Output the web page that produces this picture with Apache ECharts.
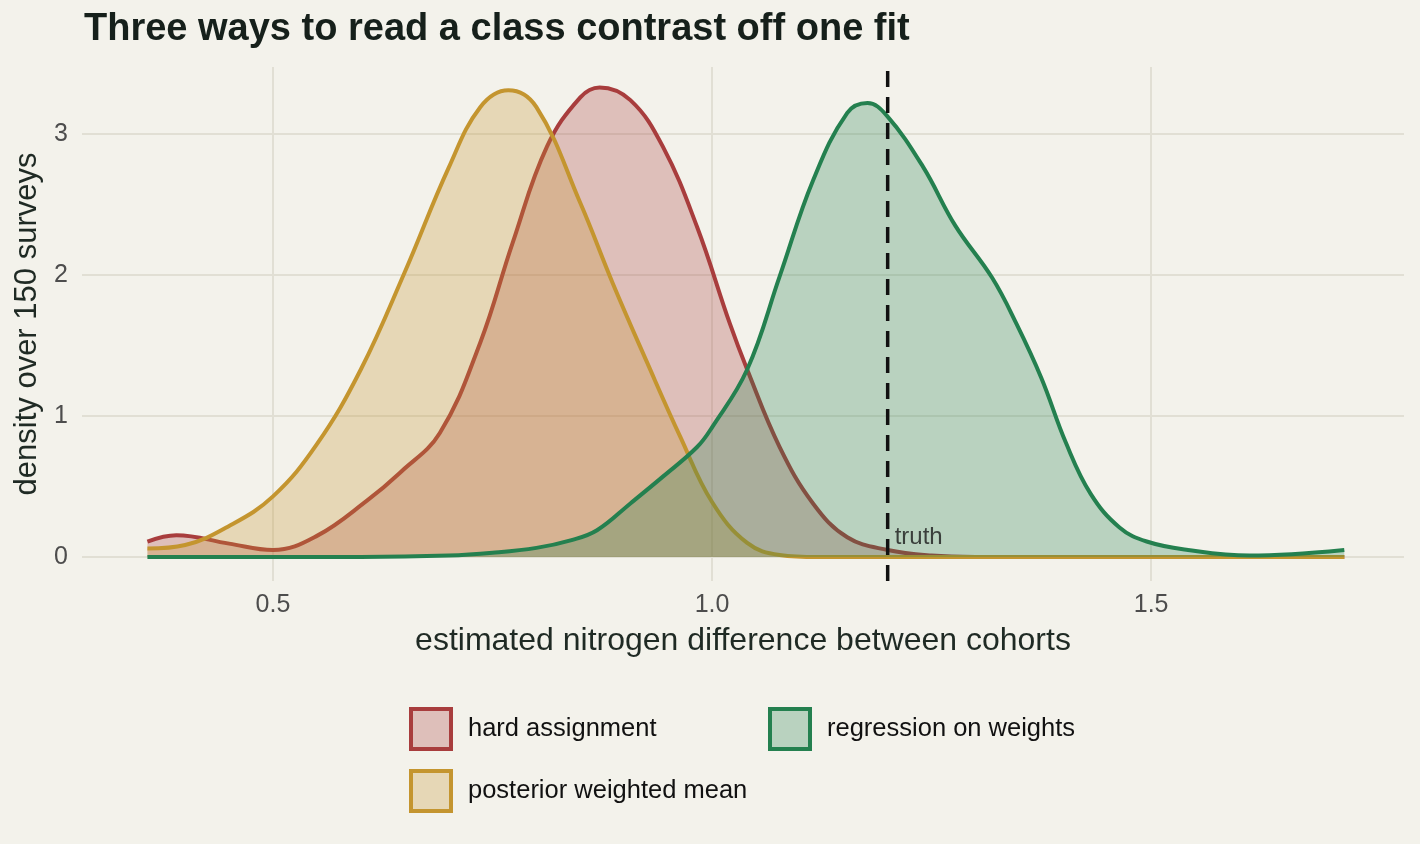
<!DOCTYPE html>
<html>
<head>
<meta charset="utf-8">
<title>Three ways to read a class contrast off one fit</title>
<script src="https://cdn.jsdelivr.net/npm/echarts@6/dist/echarts.min.js"></script>
<style>
  html, body { margin: 0; padding: 0; background: #f3f2eb; }
  #chart { width: 1420px; height: 844px; }
</style>
</head>
<body>
<div id="chart"></div>
<script>
// density curves, one x/y pair of arrays per method
const hardX = [0.357, 0.39, 0.45, 0.50, 0.55, 0.607, 0.645, 0.69, 0.736, 0.773, 0.812, 0.85, 0.872, 0.907, 0.944, 0.983, 1.02, 1.04, 1.077, 1.115, 1.154, 1.20, 1.25, 1.30, 1.45, 1.60, 1.72];
const hardY = [0.11, 0.155, 0.095, 0.05, 0.15, 0.40, 0.60, 0.88, 1.52, 2.23, 2.91, 3.26, 3.33, 3.24, 2.91, 2.34, 1.66, 1.33, 0.78, 0.38, 0.14, 0.05, 0.01, 0, 0, 0, 0];

const meanX = [0.357, 0.40, 0.45, 0.50, 0.55, 0.60, 0.65, 0.70, 0.736, 0.768, 0.80, 0.85, 0.887, 0.926, 0.964, 1.00, 1.04, 1.077, 1.12, 1.20, 1.40, 1.60, 1.72];
const meanY = [0.06, 0.085, 0.22, 0.43, 0.80, 1.33, 2.02, 2.76, 3.19, 3.31, 3.19, 2.51, 1.94, 1.38, 0.85, 0.39, 0.10, 0.015, 0, 0, 0, 0, 0];

const regX = [0.357, 0.50, 0.60, 0.70, 0.75, 0.80, 0.84, 0.869, 0.907, 0.944, 0.983, 1.00, 1.04, 1.077, 1.115, 1.154, 1.177, 1.199, 1.24, 1.277, 1.319, 1.347, 1.375, 1.403, 1.431, 1.464, 1.495, 1.542, 1.612, 1.66, 1.72];
const regY = [0, 0, 0, 0.01, 0.03, 0.065, 0.12, 0.19, 0.38, 0.57, 0.78, 0.92, 1.33, 1.99, 2.67, 3.15, 3.22, 3.13, 2.77, 2.35, 1.98, 1.65, 1.27, 0.81, 0.45, 0.21, 0.11, 0.05, 0.01, 0.02, 0.05];

const methodNames = ['hard assignment', 'posterior weighted mean', 'regression on weights'];
const truthValue = 1.2;
const truthLabel = 'truth';

const lineColors = ['#a83d3d', '#c4952f', '#24804f'];
const fillColors = ['rgba(168,61,61,0.28)', 'rgba(196,149,47,0.28)', 'rgba(36,128,79,0.28)'];

const font = '"Liberation Sans", Arial, Helvetica, sans-serif';
const xMin = 0.2825, xMax = 1.788;
const yMin = -0.17, yMax = 3.475;

function pairs(xs, ys) {
  return xs.map(function(x, i) { return [x, ys[i]]; });
}

const curves = [pairs(hardX, hardY), pairs(meanX, meanY), pairs(regX, regY)];

const chart = echarts.init(document.getElementById('chart'), null, { renderer: 'canvas' });

const densitySeries = methodNames.map(function(name, i) {
  return {
    name: name,
    type: 'line',
    data: curves[i],
    smooth: 0.4,
    symbol: 'none',
    z: 2 + i,
    lineStyle: { color: lineColors[i], width: 4 },
    itemStyle: { color: lineColors[i] },
    areaStyle: { color: fillColors[i], opacity: 1 }
  };
});

function legendItem(i) {
  return {
    name: methodNames[i],
    icon: 'rect',
    itemStyle: { color: fillColors[i], borderColor: lineColors[i], borderWidth: 4 }
  };
}

const legendBase = {
  orient: 'vertical',
  top: 707,
  padding: 0,
  itemWidth: 40,
  itemHeight: 40,
  itemGap: 18,
  selectedMode: false,
  textStyle: { fontFamily: font, fontSize: 25.5, color: '#111', padding: [0, 0, 0, 12] }
};

chart.setOption({
  backgroundColor: '#f3f2eb',
  animation: false,
  title: {
    text: 'Three ways to read a class contrast off one fit',
    left: 79,
    top: 6,
    textStyle: { fontFamily: font, fontSize: 38, fontWeight: 'bold', color: '#16201b' }
  },
  legend: [
    Object.assign({}, legendBase, { left: 409, data: [legendItem(0), legendItem(1)] }),
    Object.assign({}, legendBase, { left: 768, data: [legendItem(2)] })
  ],
  grid: { left: 82, right: 16, top: 67, bottom: 263 },
  xAxis: {
    type: 'value',
    min: xMin,
    max: xMax,
    splitNumber: 3,
    name: 'estimated nitrogen difference between cohorts',
    nameLocation: 'middle',
    nameGap: 44,
    nameTextStyle: { fontFamily: font, fontSize: 32, color: '#1f2a24' },
    axisLine: { show: false, onZero: false },
    axisTick: { show: false },
    axisLabel: {
      fontFamily: font, fontSize: 25, color: '#4d4d4d', margin: 12,
      showMinLabel: false, showMaxLabel: false,
      formatter: function(v) { return v.toFixed(1); }
    },
    splitLine: { show: true, showMinLine: false, showMaxLine: false, lineStyle: { color: '#e1dfd4', width: 2 } }
  },
  yAxis: {
    type: 'value',
    min: yMin,
    max: yMax,
    splitNumber: 4,
    name: 'density over 150 surveys',
    nameLocation: 'middle',
    nameRotate: 90,
    nameGap: 38,
    nameTextStyle: { fontFamily: font, fontSize: 31, color: '#1f2a24' },
    axisLine: { show: false },
    axisTick: { show: false },
    axisLabel: {
      fontFamily: font, fontSize: 25, color: '#4d4d4d', margin: 14,
      showMinLabel: false, showMaxLabel: false
    },
    splitLine: { show: true, showMinLine: false, showMaxLine: false, lineStyle: { color: '#e1dfd4', width: 2 } }
  },
  series: densitySeries.concat([
    {
      name: 'truth line',
      type: 'line',
      data: [[truthValue, yMin], [truthValue, yMax]],
      symbol: 'none',
      z: 10,
      lineStyle: { color: '#111', width: 3.5, type: [16, 10] }
    },
    {
      name: 'truth label',
      type: 'scatter',
      data: [[truthValue, 0.14]],
      symbolSize: 0,
      z: 11,
      label: {
        show: true,
        position: 'right',
        distance: 7,
        formatter: truthLabel,
        fontFamily: font,
        fontSize: 24,
        color: '#1a1a1a'
      }
    }
  ])
});

window.addEventListener('resize', function() {
  chart.resize();
});
</script>
</body>
</html>
